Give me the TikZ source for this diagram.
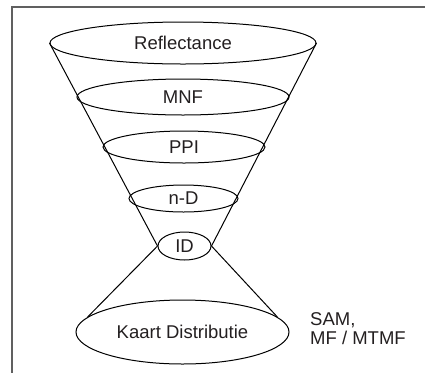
\documentclass[tikz,border=0pt]{standalone}
\usepackage{fontspec}
\setmainfont{Liberation Sans}
\usetikzlibrary{shapes.geometric, positioning}
\definecolor{FrameGray}{RGB}{96, 96, 96}
\definecolor{InkText}{RGB}{35, 31, 32}

\tikzset{
  layer/.style={draw=black, line width=1pt, ellipse, inner sep=0pt,
    text=InkText, font=\fontsize{18.5}{19}\selectfont},
  cone/.style={draw=black, line width=1pt}
}

\begin{document}
\begin{tikzpicture}[x=1pt,y=-1pt]
            \useasboundingbox (0,0) rectangle (425,373);
            % frame, only top and left edge
            \draw[FrameGray, line width=1.6pt] (425,7) -- (12,7) -- (12,373);
            % funnel layers
            \node[layer, minimum width=266, minimum height=42] (refl) at (183,43) {Reflectance};
            \node[layer, minimum width=212, minimum height=36] (mnf) at (183,97) {MNF};
            \node[layer, minimum width=162, minimum height=32] (ppi) at (184,147) {PPI};
            \node[layer, minimum width=109, minimum height=27] (nd) at (183.5,198.5) {n-D};
            \node[layer, minimum width=53, minimum height=28] (id) at (184.5,246) {ID};
            \node[layer, minimum width=213, minimum height=64] (kaart) at (182.5,332) {Kaart Distributie};
            % cone sides
            \draw[cone] (refl.west) -- (id.west);
            \draw[cone] (refl.east) -- (id.east);
            \draw[cone] (id.west) -- (kaart.171);
            \draw[cone] (id.east) -- (kaart.9);
            \node[text=InkText, font=\fontsize{18.5}{19}\selectfont, align=left, anchor=north west, inner sep=0pt] (methods) at (310,312) {SAM,\\MF / MTMF};
        \end{tikzpicture}
\end{document}
